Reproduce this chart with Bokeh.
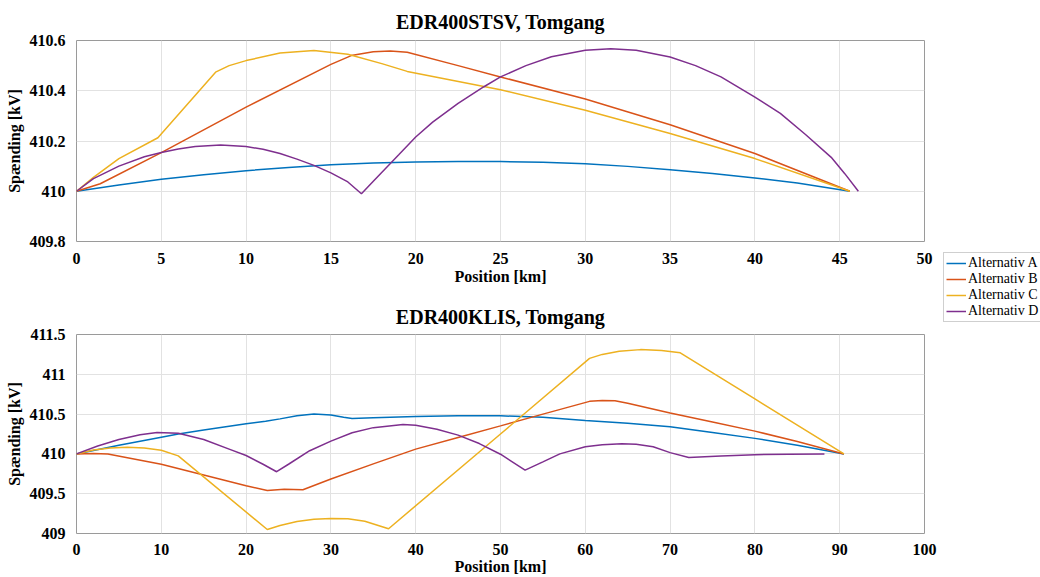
from bokeh.plotting import figure
from bokeh.models import Range1d, FixedTicker, CustomJSTickFormatter, Legend, LegendItem
from bokeh.layouts import row, column
from bokeh.embed import file_html
from bokeh.resources import INLINE

# ---------------- data ----------------
series_names = ["Alternativ A", "Alternativ B", "Alternativ C", "Alternativ D"]
series_colors = ["#0072BD", "#D95319", "#EDB120", "#7E2F8E"]

title_top = "EDR400STSV, Tomgang"
title_bottom = "EDR400KLIS, Tomgang"
x_label = "Position [km]"
y_label = "Spænding [kV]"

top_x_ticks = [0, 5, 10, 15, 20, 25, 30, 35, 40, 45, 50]
top_y_ticks = [409.8, 410.0, 410.2, 410.4, 410.6]
bottom_x_ticks = [0, 10, 20, 30, 40, 50, 60, 70, 80, 90, 100]
bottom_y_ticks = [409.0, 409.5, 410.0, 410.5, 411.0, 411.5]

# EDR400STSV
stsv_a_km = [0, 2.5, 5, 7.5, 10, 12.5, 15, 17.5, 20, 22.5, 25, 27.5, 30, 32.5, 35, 37.5, 40, 42.5, 45.6]
stsv_a_kv = [410.0, 410.025, 410.048, 410.066, 410.082, 410.095, 410.105, 410.112, 410.116, 410.118,
             410.118, 410.115, 410.109, 410.099, 410.086, 410.071, 410.053, 410.033, 410.0]
stsv_b_km = [0, 1.4, 5, 10, 15, 16.2, 17.5, 18.5, 19.5, 22.5, 25, 30, 35, 40, 45.6]
stsv_b_kv = [410.0, 410.03, 410.154, 410.335, 410.505, 410.54, 410.555, 410.558, 410.553, 410.5,
             410.455, 410.367, 410.265, 410.15, 410.0]
stsv_c_km = [0, 1, 2.5, 4.8, 8.2, 9, 10, 12, 14, 16, 18, 19.5, 25, 30, 35, 40, 45.6]
stsv_c_kv = [410.0, 410.055, 410.13, 410.213, 410.474, 410.5, 410.52, 410.55, 410.56, 410.545,
             410.508, 410.477, 410.404, 410.322, 410.23, 410.13, 410.0]
stsv_d_km = [0, 1, 2.5, 4, 5, 6, 7, 8.5, 10, 11, 12, 13, 14, 15, 16, 16.8, 17.5, 19, 20, 21,
             22.5, 24, 25, 26.5, 28, 30, 31.5, 33, 35, 36.5, 38, 40, 41.5, 43, 44.5, 45.3, 46.1]
stsv_d_kv = [410.0, 410.05, 410.1, 410.137, 410.154, 410.168, 410.178, 410.184, 410.178, 410.167,
             410.15, 410.128, 410.103, 410.073, 410.037, 409.99, 410.04, 410.145, 410.216, 410.275,
             410.35, 410.415, 410.455, 410.5, 410.535, 410.561, 410.567, 410.561, 410.534, 410.5,
             410.455, 410.375, 410.31, 410.225, 410.135, 410.07, 410.0]

# EDR400KLIS
klis_a_km = [0, 5, 10, 12, 15, 20, 22.3, 24, 26, 28, 30, 31.5, 32.5, 35, 40, 45, 50, 55, 60,
             65, 70, 75, 80, 85, 90.5]
klis_a_kv = [410.0, 410.11, 410.21, 410.25, 410.3, 410.38, 410.41, 410.44, 410.48, 410.5, 410.49,
             410.46, 410.445, 410.455, 410.47, 410.48, 410.478, 410.46, 410.42, 410.385, 410.34,
             410.27, 410.195, 410.11, 410.0]
klis_b_km = [0, 2, 3.7, 10, 15, 20, 22.5, 24.5, 26.7, 30, 35, 40, 45, 50, 55, 60.5, 62, 63.5,
             65, 70, 75, 80, 85, 90.5]
klis_b_kv = [410.0, 410.005, 410.0, 409.87, 409.735, 409.6, 409.54, 409.555, 409.55, 409.685,
             409.875, 410.06, 410.206, 410.352, 410.5, 410.66, 410.67, 410.667, 410.635, 410.514,
             410.4, 410.286, 410.155, 410.0]
klis_c_km = [0, 2, 4, 6, 8, 10, 12, 22.5, 24, 26, 28, 30, 32, 34, 36.8, 50, 60.5, 62, 64, 66.5,
             69, 71.2, 80, 90.5]
klis_c_kv = [410.0, 410.05, 410.075, 410.083, 410.075, 410.045, 409.975, 409.05, 409.1, 409.15,
             409.18, 409.19, 409.185, 409.155, 409.06, 410.25, 411.2, 411.25, 411.29, 411.31,
             411.3, 411.27, 410.69, 410.0]
klis_d_km = [0, 2.5, 5, 7.5, 9.5, 12, 15, 18, 20, 22, 23.6, 25, 27.5, 30, 32.5, 35, 38.5, 40,
             42.5, 45, 47.5, 50, 52.9, 55, 57, 60, 62, 64.3, 66, 68, 70, 72.2, 76, 80, 84, 88.2]
klis_d_kv = [410.0, 410.1, 410.18, 410.24, 410.27, 410.26, 410.18, 410.06, 409.98, 409.87,
             409.776, 409.87, 410.04, 410.16, 410.265, 410.33, 410.37, 410.36, 410.31, 410.236,
             410.13, 409.996, 409.797, 409.9, 410.0, 410.09, 410.115, 410.128, 410.12, 410.09,
             410.016, 409.955, 409.975, 409.99, 409.997, 410.0]

top_series = [(stsv_a_km, stsv_a_kv), (stsv_b_km, stsv_b_kv), (stsv_c_km, stsv_c_kv), (stsv_d_km, stsv_d_kv)]
bottom_series = [(klis_a_km, klis_a_kv), (klis_b_km, klis_b_kv), (klis_c_km, klis_c_kv), (klis_d_km, klis_d_kv)]

FONT = "Liberation Serif"
fmt_code = "return String(Math.round(tick*100)/100);"


def make_plot(title, xr, yr, xticks, yticks, series, height, border_top, border_bottom,
              title_standoff, x_label_standoff, x_axis_label_standoff):
    p = figure(width=938, height=height, x_range=Range1d(*xr), y_range=Range1d(*yr),
               output_backend="svg", toolbar_location=None,
               min_border_left=76, min_border_right=14, min_border_top=border_top,
               min_border_bottom=border_bottom, background_fill_color="white",
               border_fill_color="white", outline_line_color="#9a9a9a")
    p.title.text = title
    p.title.text_font = FONT
    p.title.text_font_size = "20px"
    p.title.text_font_style = "bold"
    p.title.align = "center"
    p.title.text_color = "#000000"
    p.title.standoff = title_standoff
    p.xaxis.ticker = FixedTicker(ticks=xticks)
    p.yaxis.ticker = FixedTicker(ticks=yticks)
    p.yaxis.formatter = CustomJSTickFormatter(code=fmt_code)
    p.xaxis.formatter = CustomJSTickFormatter(code=fmt_code)
    p.xaxis.axis_label = x_label
    p.yaxis.axis_label = y_label
    for ax in (p.xaxis, p.yaxis):
        ax.axis_label_text_font = FONT
        ax.axis_label_text_font_size = "16px"
        ax.axis_label_text_font_style = "bold"
        ax.axis_label_text_color = "#000000"
        ax.major_label_text_font = FONT
        ax.major_label_text_font_size = "16px"
        ax.major_label_text_font_style = "bold"
        ax.major_label_text_color = "#000000"
        ax.axis_line_color = None
        ax.major_tick_line_color = None
        ax.minor_tick_line_color = None
        ax.major_label_standoff = 5
    p.xaxis.major_label_standoff = x_label_standoff
    p.xaxis.axis_label_standoff = x_axis_label_standoff
    p.yaxis.axis_label_standoff = 4
    p.grid.grid_line_color = "#e2e2e2"
    p.grid.grid_line_width = 1
    for (xs, ys), c in zip(series, series_colors):
        p.line(xs, ys, line_color=c, line_width=1.5)
    return p


p1 = make_plot(title_top, (0, 50), (409.8, 410.6), top_x_ticks, top_y_ticks, top_series,
               288, 40, 47, 15, 5, 1)
p2 = make_plot(title_bottom, (0, 100), (409.0, 411.5), bottom_x_ticks, bottom_y_ticks, bottom_series,
               289, 46, 42, 13, 4, 0)

nan = float("nan")
pl = figure(width=102, height=577, x_range=Range1d(0, 1), y_range=Range1d(0, 1),
            output_backend="svg", toolbar_location=None, x_axis_type=None, y_axis_type=None,
            min_border=0, outline_line_color=None, background_fill_color="white",
            border_fill_color="white")
pl.grid.visible = False
items = []
for name, c in zip(series_names, series_colors):
    r = pl.line(x=[nan], y=[nan], line_color=c, line_width=1.5)
    items.append(LegendItem(label=name, renderers=[r]))
legend = Legend(items=items, location=(5, 255), padding=2, spacing=0, margin=0,
                glyph_width=20, glyph_height=16, label_height=16, label_standoff=2,
                label_text_font=FONT, label_text_font_size="14px", label_text_color="#000000",
                border_line_color="#a0a0a0", border_line_width=1,
                background_fill_color="white", background_fill_alpha=1.0)
pl.add_layout(legend)

layout = row(column(p1, p2), pl)

open("out.html", "w").write(file_html(layout, INLINE))
